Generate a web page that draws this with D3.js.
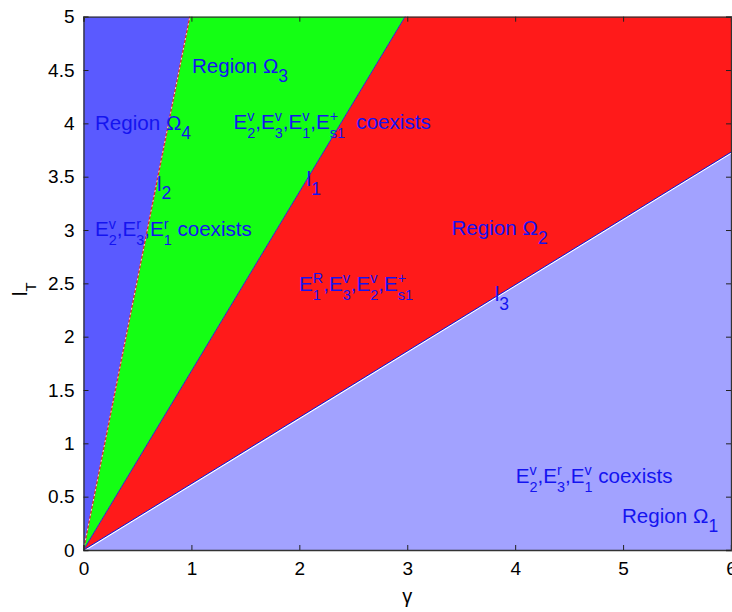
<!DOCTYPE html>
<html>
<head>
<meta charset="utf-8">
<script src="https://cdn.jsdelivr.net/npm/d3@7"></script>
<style>
body{margin:0;background:#fff;}
text{font-family:"Liberation Sans",Arial,sans-serif;}
</style>
</head>
<body>
<script>
// boundary lines, all start at the origin
const lineNames = ['l2', 'l1', 'l3']
const lineEndGamma = [0.985, 2.98, 6]
const lineEndLT = [5, 5, 3.73]

// regions
const regionNames = ['Omega4', 'Omega3', 'Omega2', 'Omega1']
const regionColors = ['#5a5aff', '#14ff14', '#ff1a1a', '#a2a2ff']

// axis ticks
const xTicks = [0, 1, 2, 3, 4, 5, 6]
const yTicks = [0, 0.5, 1, 1.5, 2, 2.5, 3, 3.5, 4, 4.5, 5]

// annotations (tex-ish strings, anchor in data units)
const labelTexts = ['Region Ω_4', 'Region Ω_3', 'E_2^v,E_3^v,E_1^v,E_{s1}^+  coexists', 'l_2', 'l_1',
    'E_2^v,E_3^r,E_1^r coexists', 'Region Ω_2', 'E_1^R,E_3^v,E_2^v,E_{s1}^+', 'l_3',
    'E_2^v,E_3^r,E_1^v coexists', 'Region Ω_1']
const labelGamma = [0.106, 1.005, 1.39, 0.681, 2.067, 0.106, 3.41, 1.998, 3.81, 4.005, 4.99]
const labelLT = [3.94, 4.47, 3.95, 3.37, 3.41, 2.94, 2.95, 2.43, 2.33, 0.63, 0.25]
const labelScript = [0.85, 0.85, 0.7, 0.85, 0.85, 0.7, 0.85, 0.7, 0.85, 0.7, 0.85]

const size = {width: 732, height: 612, left: 83.5, right: 731, top: 16.7, bottom: 550}

const svg = d3.select('body').append('svg')
    .attr('width', size.width).attr('height', size.height)

const x = d3.scaleLinear().domain([0, 6]).range([size.left, size.right])
const y = d3.scaleLinear().domain([0, 5]).range([size.bottom, size.top])

// region polygons from the boundary lines
const P = i => [lineEndGamma[i], lineEndLT[i]]
const polys = [
    [[0, 0], [0, 5], P(0)],
    [[0, 0], P(0), P(1)],
    [[0, 0], P(1), [6, 5], P(2)],
    [[0, 0], P(2), [6, 0]]
]
const line = d3.line().x(d => x(d[0])).y(d => y(d[1]))
svg.append('g').selectAll('path').data(polys).enter().append('path')
    .attr('d', d => line(d) + 'Z')
    .attr('fill', (d, i) => regionColors[i])

// boundary strokes
const seg = i => line([[0, 0], P(i)])
svg.append('path').attr('d', seg(0)).attr('stroke', '#e02020').attr('stroke-width', 1.2).attr('fill', 'none')
svg.append('path').attr('d', seg(0)).attr('stroke', '#fff').attr('stroke-width', 0.8)
    .attr('stroke-dasharray', '2,3').attr('fill', 'none')
svg.append('path').attr('d', seg(1)).attr('stroke', '#2a2ad0').attr('stroke-width', 1).attr('fill', 'none')
svg.append('path').attr('d', seg(2)).attr('stroke', '#fff').attr('stroke-width', 1.2).attr('fill', 'none')
    .attr('transform', 'translate(0,1.2)')
svg.append('path').attr('d', seg(2)).attr('stroke', '#1010d0').attr('stroke-width', 1).attr('fill', 'none')

// axes (matlab style box, inward ticks)
const fmt = d => d3.format('')(d)
svg.append('g').attr('transform', `translate(0,${size.bottom})`)
    .call(d3.axisBottom(x).tickValues(xTicks).tickSize(-5).tickPadding(12).tickFormat(fmt))
svg.append('g').attr('transform', `translate(${size.left},0)`)
    .call(d3.axisLeft(y).tickValues(yTicks).tickSize(-5).tickPadding(9).tickFormat(fmt))
svg.append('g').attr('transform', `translate(0,${size.top})`)
    .call(d3.axisTop(x).tickValues(xTicks).tickSize(-5).tickFormat(''))
svg.append('g').attr('transform', `translate(${size.right},0)`)
    .call(d3.axisRight(y).tickValues(yTicks).tickSize(-5).tickFormat(''))
svg.selectAll('.domain').attr('stroke', '#333').attr('stroke-width', 1.3)
svg.selectAll('.tick line').attr('stroke', '#222')
svg.selectAll('.tick text').attr('font-size', 19).attr('fill', '#000')
    .attr('font-family', '"Liberation Sans",Arial,sans-serif')

// tiny tex-like layout: plain runs, stacked _ and ^
function parseTex(s) {
    const out = []
    let i = 0
    while (i < s.length) {
        const c = s[i]
        if (c === '_' || c === '^') {
            let arg
            if (s[i + 1] === '{') {
                const j = s.indexOf('}', i)
                arg = s.slice(i + 2, j); i = j + 1
            } else { arg = s[i + 1]; i += 2 }
            let last = out[out.length - 1]
            const key = c === '_' ? 'sub' : 'sup'
            if (!last || last.type !== 'script' || last[key] !== undefined) {
                last = {type: 'script'}; out.push(last)
            }
            last[key] = arg
        } else {
            let last = out[out.length - 1]
            if (!last || last.type !== 'run') { last = {type: 'run', t: ''}; out.push(last) }
            last.t += c; i++
        }
    }
    return out
}

function tex(g, str, px, py, fs, sc, color) {
    let cx = px
    parseTex(str).forEach(tok => {
        if (tok.type === 'run') {
            const t = g.append('text').attr('x', cx).attr('y', py).attr('font-size', fs)
                .attr('fill', color).style('white-space', 'pre').text(tok.t)
            cx += t.node().getComputedTextLength()
        } else {
            let w = 0
            if (tok.sub !== undefined) {
                const t = g.append('text').attr('x', cx).attr('y', py + fs * 0.43)
                    .attr('font-size', fs * sc).attr('fill', color).text(tok.sub)
                w = Math.max(w, t.node().getComputedTextLength())
            }
            if (tok.sup !== undefined) {
                const t = g.append('text').attr('x', cx).attr('y', py - fs * 0.36)
                    .attr('font-size', fs * sc).attr('fill', color).text(tok.sup)
                w = Math.max(w, t.node().getComputedTextLength())
            }
            cx += w
        }
    })
}

const ann = svg.append('g')
labelTexts.forEach((s, i) => {
    tex(ann, s, x(labelGamma[i]), y(labelLT[i]), 20.6, labelScript[i], '#1414f0')
})

// axis titles
svg.append('text').attr('x', (size.left + size.right) / 2).attr('y', 603)
    .attr('text-anchor', 'middle').attr('font-size', 20).text('γ')
const yl = svg.append('g').attr('transform', 'translate(27,296) rotate(-90)')
tex(yl, 'l_T', 0, 0, 20, 0.75, '#000')
</script>
</body>
</html>
